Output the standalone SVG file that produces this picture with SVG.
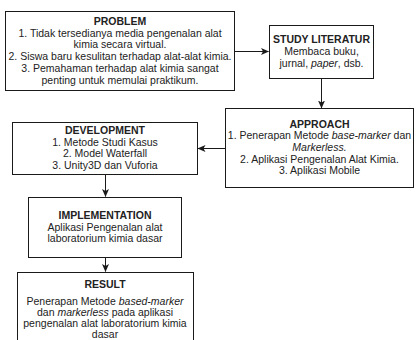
<svg xmlns="http://www.w3.org/2000/svg" width="416" height="340" viewBox="0 0 416 340">
  <style>
    .box { fill: #ffffff; stroke: #1a1a1a; stroke-width: 1; }
    .lbl { font-family: "Liberation Sans", Arial, sans-serif; font-size: 10.5px; fill: #222222; text-anchor: middle; }
    .ttl { font-weight: bold; }
    .it { font-style: italic; }
    .edge { fill: none; stroke: #1a1a1a; stroke-width: 1; }
  </style>
  <defs>
    <marker id="arrow" viewBox="0 0 8 8" refX="7.5" refY="4" markerWidth="8" markerHeight="8" markerUnits="userSpaceOnUse" orient="auto">
      <path d="M0,0.5 L8,4 L0,7.5 L2,4 Z" fill="#1a1a1a"/>
    </marker>
  </defs>
  <rect width="416" height="340" fill="#ffffff"/>

  <g id="connectors">
    <path class="edge" d="M234.5,51.5 H268.5" marker-end="url(#arrow)"/>
    <path class="edge" d="M321.5,78.5 V108" marker-end="url(#arrow)"/>
    <path class="edge" d="M225.5,148.5 H198" marker-end="url(#arrow)"/>
    <path class="edge" d="M105.5,174.5 V196.5" marker-end="url(#arrow)"/>
    <path class="edge" d="M105.5,257.5 V271.5" marker-end="url(#arrow)"/>
  </g>

  <g id="problem">
    <rect class="box" x="5.5" y="11.5" width="229" height="79"/>
    <text class="lbl" x="120" y="25"><tspan class="ttl">PROBLEM</tspan></text>
    <text class="lbl" x="120" y="36.7">1. Tidak tersedianya media pengenalan alat</text>
    <text class="lbl" x="120" y="48.4">kimia secara virtual.</text>
    <text class="lbl" x="120" y="60.1">2. Siswa baru kesulitan terhadap alat-alat kimia.</text>
    <text class="lbl" x="120" y="71.8">3. Pemahaman terhadap alat kimia sangat</text>
    <text class="lbl" x="120" y="83.5">penting untuk memulai praktikum.</text>
  </g>

  <g id="study-literatur">
    <rect class="box" x="269.5" y="25.5" width="104" height="53"/>
    <text class="lbl ttl" x="321.5" y="43.3">STUDY LITERATUR</text>
    <text class="lbl" x="321.5" y="55">Membaca buku,</text>
    <text class="lbl" x="321.5" y="66.7">jurnal, <tspan class="it">paper</tspan>, dsb.</text>
  </g>

  <g id="approach">
    <rect class="box" x="225.5" y="108.5" width="188" height="79"/>
    <text class="lbl ttl" x="319.5" y="127.6">APPROACH</text>
    <text class="lbl" x="319.5" y="139.3">1. Penerapan Metode <tspan class="it">base-marker</tspan> dan</text>
    <text class="lbl it" x="319.5" y="151">Markerless.</text>
    <text class="lbl" x="319.5" y="162.7">2. Aplikasi Pengenalan Alat Kimia.</text>
    <text class="lbl" x="319.5" y="174.4">3. Aplikasi Mobile</text>
  </g>

  <g id="development">
    <rect class="box" x="12.5" y="122.5" width="185" height="52"/>
    <text class="lbl ttl" x="105" y="134">DEVELOPMENT</text>
    <text class="lbl" x="105" y="145.7">1. Metode Studi Kasus</text>
    <text class="lbl" x="105" y="157.4">2. Model Waterfall</text>
    <text class="lbl" x="105" y="169.1">3. Unity3D dan Vuforia</text>
  </g>

  <g id="implementation">
    <rect class="box" x="28.5" y="197.5" width="153" height="60"/>
    <text class="lbl ttl" x="105" y="219">IMPLEMENTATION</text>
    <text class="lbl" x="105" y="230.7">Aplikasi Pengenalan alat</text>
    <text class="lbl" x="105" y="242.4">laboratorium kimia dasar</text>
  </g>

  <g id="result">
    <rect class="box" x="17.5" y="272.5" width="176" height="80"/>
    <text class="lbl ttl" x="105" y="288">RESULT</text>
    <text class="lbl" x="105" y="304.7">Penerapan Metode <tspan class="it">based-marker</tspan></text>
    <text class="lbl" x="105" y="315.9">dan <tspan class="it">markerless</tspan> pada aplikasi</text>
    <text class="lbl" x="105" y="327.1">pengenalan alat laboratorium kimia</text>
    <text class="lbl" x="105" y="338.3">dasar</text>
  </g>
</svg>
